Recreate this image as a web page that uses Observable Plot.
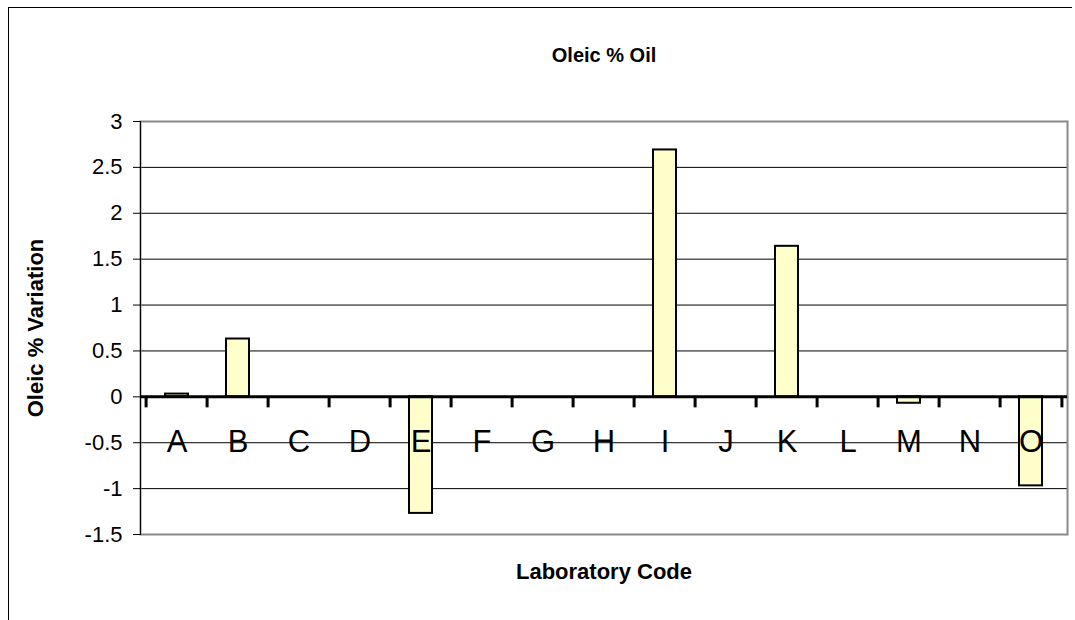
<!DOCTYPE html>
<html>
<head>
<meta charset="utf-8">
<script src="https://cdn.jsdelivr.net/npm/d3@7"></script>
<script src="https://cdn.jsdelivr.net/npm/@observablehq/plot@0.6"></script>
<style>
  html, body { margin: 0; padding: 0; overflow: hidden; background: #fff; }
  body { width: 1075px; height: 620px; position: relative; font-family: "Liberation Sans", Arial, sans-serif; }
  #frame { position: absolute; left: 8px; top: 7px; width: 1064px; height: 613px; border-left: 1px solid #000; border-top: 1px solid #000; box-sizing: border-box; }
  #chart { position: absolute; left: 0; top: 0; }
</style>
</head>
<body>
<div id="frame"></div>
<div id="chart"></div>
<script>
const title = "Oleic % Oil";
const xLabel = "Laboratory Code";
const yLabel = "Oleic % Variation";
const labs = ["A","B","C","D","E","F","G","H","I","J","K","L","M","N","O"];
const values = [0.03, 0.63, null, null, -1.27, null, null, null, 2.69, null, 1.64, null, -0.07, null, -0.97];
const yTicks = [-1.5, -1, -0.5, 0, 0.5, 1, 1.5, 2, 2.5, 3];

const data = labs.map((lab, i) => ({lab, value: values[i]})).filter(d => d.value != null);

const W = 1075, H = 620, ML = 140, MR = 8, MT = 121, MB = 86;
const bw = (W - ML - MR) / labs.length;

const chart = Plot.plot({
  width: W, height: H,
  marginLeft: ML, marginRight: MR, marginTop: MT, marginBottom: MB,
  style: {fontFamily: "'Liberation Sans', Arial, sans-serif", background: "transparent", overflow: "visible", color: "#000"},
  x: {domain: labs, padding: 0, axis: null},
  y: {domain: [-1.5, 3], axis: null},
  marks: [
    Plot.ruleY(yTicks, {stroke: "#000", strokeWidth: 1}),
    Plot.frame({stroke: "#888", strokeWidth: 2}),
    Plot.frame({anchor: "left", stroke: "#000", strokeWidth: 1}),
    Plot.axisY({ticks: yTicks, tickSize: 7, tickPadding: 11, fontSize: 22, label: null, tickFormat: d => String(d)}),
    Plot.barY(data, {x: "lab", y: "value", fill: "#FFFFCC", stroke: "#000", strokeWidth: 2, insetLeft: 19, insetRight: 19}),
    Plot.ruleY([0], {stroke: "#000", strokeWidth: 3}),
    Plot.ruleX(labs, {x: d => d, dx: -bw / 2, y1: 0, y2: -0.12, stroke: "#000", strokeWidth: 3}),
    Plot.ruleX([labs[labs.length - 1]], {x: d => d, dx: bw / 2, y1: 0, y2: -0.12, stroke: "#000", strokeWidth: 3}),
    Plot.text(labs, {x: d => d, y: 0, dy: 45, fontSize: 31, fill: "#000"}),
    Plot.text([title], {frameAnchor: "top", dy: -74, fontSize: 20, fontWeight: "bold", fill: "#000"}),
    Plot.text([xLabel], {frameAnchor: "bottom", dy: 44, fontSize: 22, fontWeight: "bold", fill: "#000"}),
    Plot.text([yLabel], {frameAnchor: "left", textAnchor: "middle", dx: -105, rotate: -90, fontSize: 22, fontWeight: "bold", fill: "#000"})
  ]
});
document.getElementById("chart").appendChild(chart);
</script>
</body>
</html>
